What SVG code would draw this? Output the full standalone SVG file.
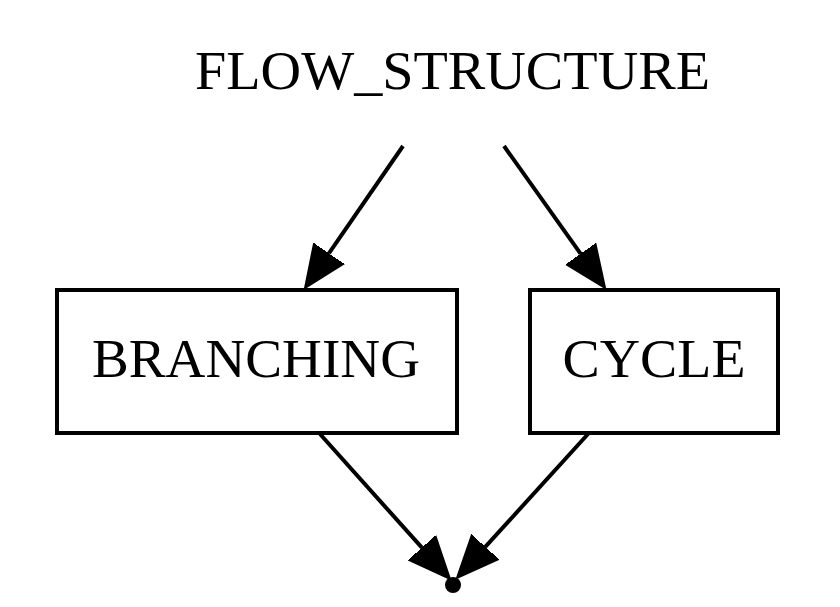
<svg xmlns="http://www.w3.org/2000/svg" width="840" height="607" viewBox="0 0 840 607">
<defs>
<style>
.lbl{font-family:"Liberation Serif","Times New Roman",serif;font-size:55px;fill:#000;text-anchor:middle}
.box{fill:#fff;stroke:#000;stroke-width:4}
.edge{fill:none;stroke:#000;stroke-width:4}
</style>
<marker id="ah" markerUnits="userSpaceOnUse" markerWidth="48" markerHeight="44" viewBox="0 -22 48 44" refX="0" refY="0" orient="auto">
<path d="M0,-18 L42,0 L0,18 Z" fill="#000" stroke="#000" stroke-width="2"/>
</marker>
</defs>
<rect width="840" height="607" fill="#fff"/>
<g id="connectors">
<line class="edge" x1="403" y1="146" x2="328.9" y2="253.4" marker-end="url(#ah)"/>
<line class="edge" x1="504" y1="146" x2="580.7" y2="253.8" marker-end="url(#ah)"/>
<line class="edge" x1="320" y1="434" x2="421.9" y2="547.7" marker-end="url(#ah)"/>
<line class="edge" x1="588" y1="434" x2="485.3" y2="546.9" marker-end="url(#ah)"/>
</g>
<g id="flow_structure">
<text class="lbl" x="452.5" y="89" textLength="515" lengthAdjust="spacingAndGlyphs">FLOW_STRUCTURE</text>
</g>
<g id="branching">
<rect class="box" x="57" y="290" width="400" height="143"/>
<text class="lbl" x="256" y="377" textLength="328" lengthAdjust="spacingAndGlyphs">BRANCHING</text>
</g>
<g id="cycle">
<rect class="box" x="530" y="290" width="248" height="143"/>
<text class="lbl" x="654" y="377" textLength="183" lengthAdjust="spacingAndGlyphs">CYCLE</text>
</g>
<g id="end">
<circle cx="453" cy="585" r="8" fill="#000"/>
</g>
</svg>
